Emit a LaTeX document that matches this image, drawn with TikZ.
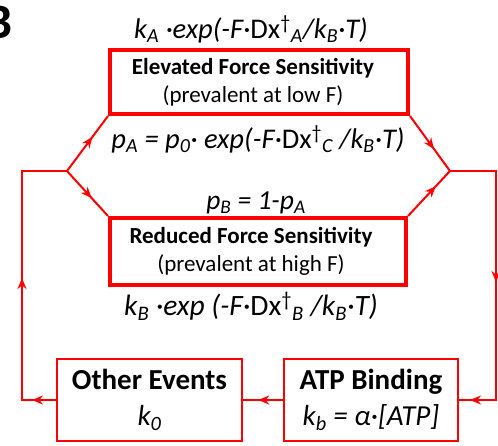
\documentclass[tikz,border=0pt]{standalone}
\usepackage{fontspec}
\setmainfont{Carlito}
\usetikzlibrary{arrows.meta,decorations.markings}

\tikzset{
  statebox/.style={draw=red, line width=4pt, rectangle, inner sep=0pt, align=center,
    font=\fontsize{23}{28}\selectfont},
  eventbox/.style={draw=red, line width=2pt, rectangle, inner sep=0pt, align=center,
    font=\fontsize{29}{36}\selectfont},
  rate/.style={inner sep=0pt, font=\fontsize{#1}{#1}\selectfont\itshape},
  flow/.style={draw=red, line width=2pt, postaction={decorate},
    decoration={markings, mark=at position #1 with {\arrow{Stealth[length=11pt,width=9pt]}}}},
  flowtwo/.style 2 args={draw=red, line width=2pt, postaction={decorate},
    decoration={markings,
      mark=at position #1 with {\arrow{Stealth[length=11pt,width=9pt]}},
      mark=at position #2 with {\arrow{Stealth[length=11pt,width=9pt]}}}}
}
\newcommand{\dgr}[1]{\textup{Dx}\textsuperscript{\textup{†}}\textsubscript{#1}}

\begin{document}
\begin{tikzpicture}[x=1pt, y=-1pt]
\useasboundingbox (0,0) rectangle (498,445);

% panel letter
\node[anchor=base east, inner sep=0pt, font=\fontsize{50}{50}\selectfont\bfseries] (panel) at (13,38) {B};

% the two force sensitivity states
\node[statebox, minimum width=298pt, minimum height=64pt] (elevbox) at (259,82)
  {{\bfseries Elevated Force Sensitivity}\hspace*{12pt}\\ (prevalent at low F)\hspace*{12pt}};
\node[statebox, minimum width=296pt, minimum height=67pt] (redbox) at (258,251.5)
  {{\bfseries Reduced Force Sensitivity}\hspace*{14pt}\\ (prevalent at high F)\hspace*{14pt}};

% rates and probabilities
\node[rate=28.5] (kalabel) at (251,29) {k\textsubscript{A} ·exp(-F·\dgr{A}/k\textsubscript{B}·T)};
\node[rate=28.5] (palabel) at (258,139) {p\textsubscript{A} = p\textsubscript{0}· exp(-F·\dgr{C} /k\textsubscript{B}·T)};
\node[rate=27.5] (pblabel) at (256,203) {p\textsubscript{B} = 1-p\textsubscript{A}};
\node[rate=29.5] (kblabel) at (251,306) {k\textsubscript{B} ·exp (-F·\dgr{B} /k\textsubscript{B}·T)};

% other steps of the cycle
\node[eventbox, minimum width=185pt, minimum height=82pt] (otherbox) at (149.5,400)
  {{\bfseries Other Events}\\ \itshape k\textsubscript{0}};
\node[eventbox, minimum width=174pt, minimum height=82pt] (atpbox) at (371,400)
  {{\bfseries ATP Binding}\\ \itshape k\textsubscript{b} = α·[ATP]};

% branch points
\coordinate (jl) at (67,171);
\coordinate (jr) at (450,171);
\coordinate (cl) at (22,171);
\coordinate (cr) at (496,171);

\draw[flow=0.62] (jl) -- (elevbox.south west);
\draw[flow=0.6] (jl) -- (redbox.north west);
\draw[flow=0.6] (elevbox.south east) -- (jr);
\draw[flow=0.66] (redbox.north east) -- (jr);
\draw[flowtwo={157pt}{301pt}] (jr) -- (cr) -- (cr |- atpbox.east) -- (atpbox.east);
\draw[flow=0.62] (atpbox.west) -- (otherbox.east);
\draw[flowtwo={24pt}{156pt}] (otherbox.west) -- (cl |- otherbox.west) -- (cl) -- (jl);
\end{tikzpicture}
\end{document}
